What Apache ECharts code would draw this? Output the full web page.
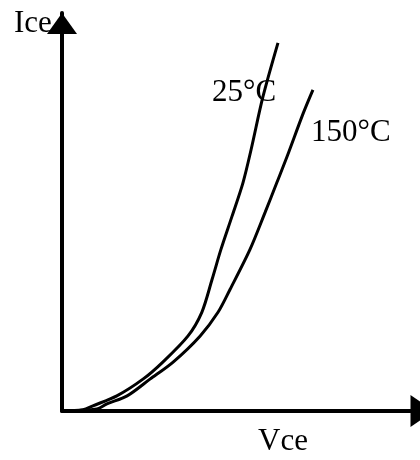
<!DOCTYPE html>
<html>
<head>
<meta charset="utf-8">
<script src="https://cdn.jsdelivr.net/npm/echarts@6/dist/echarts.min.js"></script>
<style>html,body{margin:0;padding:0;background:#fff}#c{width:420px;height:460px}</style>
</head>
<body>
<div id="c"></div>
<script>
// Data (arbitrary units)
var vce25  = [0, 5.7, 8.4, 14.9, 22.0, 27.4, 34.2, 38.0, 40.8, 43.2, 46.2, 49.2, 51.4, 54.6, 58.7];
var ice25  = [0, 0.3, 1.3, 3.8, 8.0, 12.3, 18.8, 24.8, 33.1, 40.6, 48.9, 57.4, 65.7, 78.9, 92.5];
var vce150 = [0, 9.5, 12.2, 17.7, 23.9, 30.2, 37.5, 42.4, 45.7, 51.1, 55.2, 58.4, 61.2, 65.6, 68.2];
var ice150 = [0, 0.5, 1.8, 3.8, 8.0, 12.3, 18.8, 24.8, 30.6, 40.6, 49.9, 57.4, 64.0, 74.9, 80.7];
var seriesNames = ['25°C', '150°C'];
var xName = 'Vce';
var yName = 'Ice';

function pairs(xs, ys) { return xs.map(function (x, i) { return [x, ys[i]]; }); }

var chart = echarts.init(document.getElementById('c'), null, {renderer: 'canvas'});
var font = '"Liberation Serif", "Times New Roman", serif';
chart.setOption({
  backgroundColor: '#fff',
  animation: false,
  grid: {left: 62, right: 0, top: 13, bottom: 49},
  xAxis: {
    type: 'value', min: 0, max: 97.3,
    axisLine: {show: true, symbol: ['none', 'triangle'], symbolSize: [32, 23], symbolOffset: [0, 2],
               lineStyle: {color: '#000', width: 4}},
    axisTick: {show: false}, axisLabel: {show: false}, splitLine: {show: false}
  },
  yAxis: {
    type: 'value', min: 0, max: 100,
    axisLine: {show: true, symbol: ['none', 'triangle'], symbolSize: [30, 21], symbolOffset: [0, -10.5],
               lineStyle: {color: '#000', width: 4}},
    axisTick: {show: false}, axisLabel: {show: false}, splitLine: {show: false}
  },
  series: [
    {name: seriesNames[0], type: 'line', data: pairs(vce25, ice25), smooth: 0.3, showSymbol: false,
     lineStyle: {color: '#000', width: 3}, z: 3},
    {name: seriesNames[1], type: 'line', data: pairs(vce150, ice150), smooth: 0.3, showSymbol: false,
     lineStyle: {color: '#000', width: 3}, z: 3}
  ],
  graphic: [
    {type: 'text', left: 14, top: 8, z: 1, style: {text: yName, font: '31px ' + font, fill: '#000'}},
    {type: 'text', left: 258, top: 426, z: 1, style: {text: xName, font: '31px ' + font, fill: '#000'}},
    {type: 'text', left: 212, top: 77, z: 1, style: {text: seriesNames[0], font: '31px ' + font, fill: '#000'}},
    {type: 'text', left: 311, top: 117, z: 1, style: {text: seriesNames[1], font: '31px ' + font, fill: '#000'}}
  ]
});
</script>
</body>
</html>
